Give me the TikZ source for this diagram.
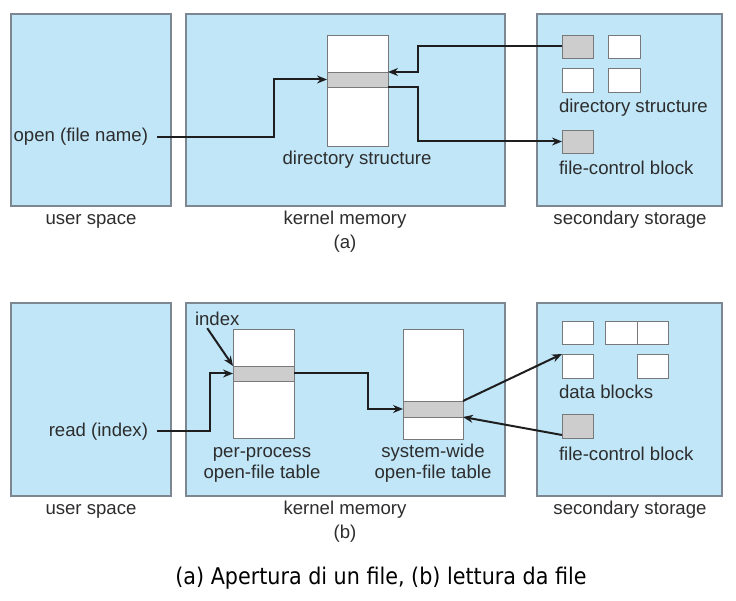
\documentclass[tikz,border=0pt]{standalone}
\usepackage{fontspec}
\setmainfont{Liberation Sans}
\newfontfamily\capfont{DejaVu Sans Condensed}
\usetikzlibrary{arrows.meta,calc}
\definecolor{panelblue}{RGB}{192,230,248}
\definecolor{panelborder}{RGB}{125,135,145}
\definecolor{rowgray}{RGB}{205,205,205}
\definecolor{tabborder}{RGB}{120,120,120}
\definecolor{ink}{RGB}{30,30,30}
\definecolor{txt}{RGB}{45,45,45}
\begin{document}
\begin{tikzpicture}[x=1pt,y=-1pt,
  every node/.style={inner sep=0pt,outer sep=0pt},
  panel/.style={draw=panelborder,fill=panelblue,line width=1.2pt,anchor=north west},
  tab/.style={draw=tabborder,fill=white,line width=0.9pt,anchor=north west},
  row/.style={draw=tabborder,fill=rowgray,line width=0.9pt,anchor=north west},
  lbl/.style={font=\fontsize{18.6}{21}\selectfont,text=txt,anchor=base},
  arr/.style={draw=ink,line width=2pt,-{Stealth[length=10pt,width=8pt]}}]
\useasboundingbox (0,0) rectangle (736,601);

% ---------------- (a) ----------------
\node[panel,minimum width=160pt,minimum height=192pt] (us1) at (11,14) {};
\node[panel,minimum width=319pt,minimum height=192pt] (km1) at (186,14) {};
\node[panel,minimum width=185pt,minimum height=192pt] (ss1) at (537,14) {};

\node[tab,minimum width=61pt,minimum height=111pt] (dirtab) at (327,35) {};
\node[row,minimum width=61pt,minimum height=15pt] (dirrow) at (327,72) {};

\node[row,minimum width=31pt,minimum height=23pt] (d1) at (562,35) {};
\node[tab,minimum width=32pt,minimum height=23pt] (d2) at (608,35) {};
\node[tab,minimum width=31pt,minimum height=24pt] (d3) at (562,68) {};
\node[tab,minimum width=32pt,minimum height=24pt] (d4) at (608,68) {};
\node[row,minimum width=31pt,minimum height=23pt] (fcb1) at (562,130) {};

\node[lbl,anchor=base east] (open) at (148,142) {open (file name)};
\node[lbl] (dirlbl) at (357,165) {directory structure};
\node[lbl,anchor=base west] (dslbl) at (559,113) {directory structure};
\node[lbl,anchor=base west] (fcblbl1) at (559,175) {file-control block};
\node[lbl] (us1l) at (91,225) {user space};
\node[lbl] (km1l) at (345,225) {kernel memory};
\node[lbl] (ss1l) at (630,225) {secondary storage};
\node[lbl] (capa) at (345,249) {(a)};

\draw[arr] ([xshift=9pt]open.east) -- ++(117,0) |- (dirrow.west);
\draw[arr] (d1.west) -| ($(dirrow.north east)+(30,0)$) -- (dirrow.north east);
\draw[arr] (dirrow.south east) -- ++(30,0) |- (fcb1.west);

% ---------------- (b) ----------------
\node[panel,minimum width=160pt,minimum height=193pt] (us2) at (11,303) {};
\node[panel,minimum width=319pt,minimum height=193pt] (km2) at (186,303) {};
\node[panel,minimum width=185pt,minimum height=193pt] (ss2) at (537,303) {};

\node[tab,minimum width=61pt,minimum height=109pt] (pptab) at (233,329) {};
\node[row,minimum width=61pt,minimum height=15pt] (pprow) at (233,366) {};
\node[tab,minimum width=60pt,minimum height=110pt] (systab) at (403,329) {};
\node[row,minimum width=60pt,minimum height=16pt] (sysrow) at (403,401) {};

\node[tab,minimum width=31pt,minimum height=23pt] (b1) at (562,321) {};
\node[tab,minimum width=32pt,minimum height=23pt] (b2) at (605,321) {};
\node[tab,minimum width=31pt,minimum height=23pt] (b3) at (637,321) {};
\node[tab,minimum width=31pt,minimum height=24pt] (b4) at (562,354) {};
\node[tab,minimum width=31pt,minimum height=24pt] (b5) at (637,354) {};
\node[row,minimum width=31pt,minimum height=24pt] (fcb2) at (562,414) {};

\node[lbl,anchor=base west] (index) at (195,326) {index};
\node[lbl,anchor=base east] (read) at (148,436) {read (index)};
\node[lbl,align=center] (pplbl) at (262,478) {per-process\\open-file table};
\node[lbl,align=center] (syslbl) at (433,478) {system-wide\\open-file table};
\node[lbl,anchor=base west] (dblbl) at (559,399) {data blocks};
\node[lbl,anchor=base west] (fcblbl2) at (559,460) {file-control block};
\node[lbl] (us2l) at (91,514) {user space};
\node[lbl] (km2l) at (345,514) {kernel memory};
\node[lbl] (ss2l) at (630,514) {secondary storage};
\node[lbl] (capb) at (345,538) {(b)};

\draw[arr] ([xshift=-10pt,yshift=-2pt]index.south) -- (pprow.north west);
\draw[arr] ([xshift=9pt]read.east) -- ++(53,0) |- (pprow.west);
\draw[arr] (pprow.east) -- ++(74,0) |- (sysrow.west);
\draw[arr] (sysrow.north east) -- (b4.north west);
\draw[arr] ([yshift=3pt]fcb2.south west) -- (sysrow.south east);

% caption
\node[anchor=base,font=\capfont\fontsize{23}{26}\selectfont,text=black] (caption) at (381,584)
  {(a) Apertura di un file, (b) lettura da file};
\end{tikzpicture}
\end{document}
